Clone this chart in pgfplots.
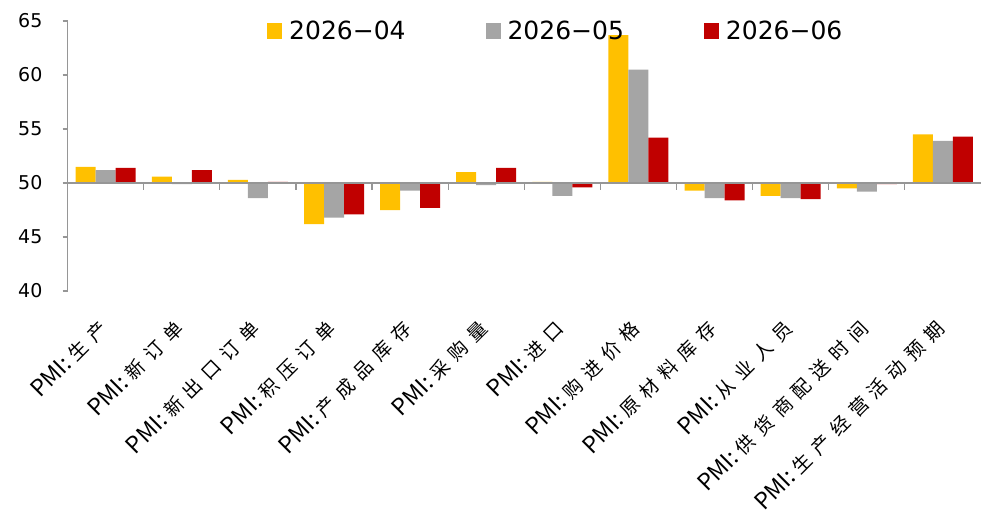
\documentclass[border=0pt]{standalone}
\usepackage{fontspec}
\setmainfont{DejaVu Sans}
\newfontfamily\cjk[LetterSpace=40]{Noto Sans CJK SC}
\newfontfamily\lat{Noto Sans CJK SC}
\newcommand\lab[1]{{\lat\fontsize{23}{23}\selectfont PMI:}\hspace{5pt}{\cjk\fontsize{19}{19}\selectfont #1}}
\usepackage{pgfplots}
\pgfplotsset{compat=1.18}
\definecolor{c1}{HTML}{FFC000}
\definecolor{c2}{HTML}{A5A5A5}
\definecolor{c3}{HTML}{C00000}
\definecolor{axgray}{RGB}{150,150,150}

\begin{document}
\begin{tikzpicture}
\path[use as bounding box] (-67.6pt,-221pt) rectangle (914.4pt,291pt);
\begin{axis}[
  scale only axis, width=913.4pt, height=270pt,
  xmin=-0.5, xmax=11.5, ymin=-10, ymax=15,
  % bars grow from 50: shift the values so that 50 sits at 0
  y filter/.code={\pgfmathparse{\pgfmathresult-50}},
  ybar=0pt, bar width=20pt,
  axis x line*=bottom, axis y line*=left,
  x axis line style={draw=none},
  y axis line style={axgray, line width=1.2pt},
  xtick={0,...,11},
  xticklabels={\lab{生产}, \lab{新订单}, \lab{新出口订单}, \lab{积压订单}, \lab{产成品库存},
    \lab{采购量}, \lab{进口}, \lab{购进价格}, \lab{原材料库存}, \lab{从业人员},
    \lab{供货商配送时间}, \lab{生产经营活动预期}},
  xtick style={draw=none},
  ytick={-10,-5,0,5,10,15}, yticklabels={40,45,50,55,60,65},
  ytick style={axgray, line width=1.2pt},
  tick align=outside, major tick length=5pt,
  yticklabel style={font=\fontsize{19}{19}\selectfont, inner sep=0pt, xshift=-20pt},
  xticklabel style={xshift=-9pt, yshift=-22pt,
    rotate=45, anchor=north east, inner sep=0pt},
  legend columns=3,
  legend style={draw=none, fill=none, at={(0.2183,0.963)}, anchor=west,
    inner sep=0pt, nodes={inner sep=0pt},
    font=\fontsize{25}{25}\selectfont,
    /tikz/every odd column/.append style={column sep=7pt},
    /tikz/every even column/.append style={column sep=80pt}},
  legend image code/.code={\fill[#1] (0pt,-8pt) rectangle (15pt,8pt);},
]
\addplot[fill=c1, draw=none] coordinates {(0,51.5) (1,50.6) (2,50.3) (3,46.2) (4,47.5) (5,51.0)
  (6,50.1) (7,63.7) (8,49.3) (9,48.8) (10,49.5) (11,54.5)};
\addplot[fill=c2, draw=none] coordinates {(0,51.2) (1,49.9) (2,48.6) (3,46.8) (4,49.3) (5,49.8)
  (6,48.8) (7,60.5) (8,48.6) (9,48.6) (10,49.2) (11,53.9)};
\addplot[fill=c3, draw=none] coordinates {(0,51.4) (1,51.2) (2,50.1) (3,47.1) (4,47.7) (5,51.4)
  (6,49.6) (7,54.2) (8,48.4) (9,48.5) (10,49.9) (11,54.3)};
\legend{2026−04, 2026−05, 2026−06}
\draw[axgray, line width=1.2pt] (rel axis cs:0,0.4) -- (rel axis cs:1,0.4);
\pgfplotsinvokeforeach{1,...,11}{
  \draw[axgray, line width=1.2pt] (rel axis cs:#1/12,0.4) -- ++(0pt,-7pt);
}
\end{axis}
\end{tikzpicture}
\end{document}
